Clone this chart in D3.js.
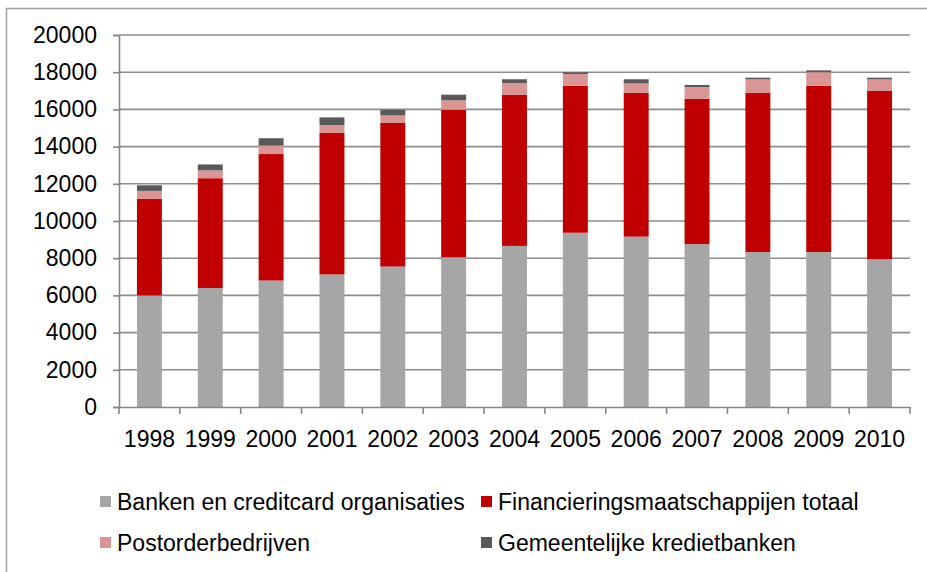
<!DOCTYPE html>
<html>
<head>
<meta charset="utf-8">
<script src="https://cdn.jsdelivr.net/npm/d3@7"></script>
<style>
body { margin: 0; background: #fff; }
text { font-family: "Liberation Sans", Arial, sans-serif; fill: #000; }
</style>
</head>
<body>
<div id="chart"></div>
<script>
var years = ["1998","1999","2000","2001","2002","2003","2004","2005","2006","2007","2008","2009","2010"];
var banken = [6000, 6400, 6800, 7130, 7550, 8050, 8660, 9370, 9160, 8760, 8330, 8330, 7940];
var financiering = [5200, 5900, 6800, 7600, 7720, 7935, 8130, 7906, 7720, 7815, 8550, 8946, 9050];
var postorder = [420, 420, 450, 430, 410, 505, 630, 627, 520, 630, 736, 724, 626];
var gemeentelijk = [300, 320, 400, 410, 290, 300, 200, 90, 220, 110, 90, 100, 90];
var yTicks = [0, 2000, 4000, 6000, 8000, 10000, 12000, 14000, 16000, 18000, 20000];

var seriesNames = ["Banken en creditcard organisaties", "Financieringsmaatschappijen totaal",
                   "Postorderbedrijven", "Gemeentelijke kredietbanken"];
var seriesColors = ["#a6a6a6", "#c00000", "#da9694", "#595959"];

var param = {
	width : 927,
	height : 572,
	left : 119,
	right : 910,
	top : 35,
	bottom : 407,
	fontSize : "23px"
}

function draw() {
	var svg = d3.select("#chart")
	            .append("svg")
	            .attr("width", param.width)
	            .attr("height", param.height);

	svg.append("rect")
	   .attr("x", 6.5).attr("y", 8.5)
	   .attr("width", 930).attr("height", 580)
	   .style("fill", "none")
	   .style("stroke", "#a0a0a0")
	   .style("stroke-width", 1.5);

	var x = d3.scaleBand()
	          .domain(years)
	          .range([param.left, param.right])
	          .paddingInner(0.59)
	          .paddingOuter(0.295);

	var y = d3.scaleLinear()
	          .domain([0, 20000])
	          .range([param.bottom, param.top]);

	// gridlines
	svg.selectAll(".grid")
	   .data(yTicks.filter(function(d) {return d > 0}))
	   .enter()
	   .append("line")
	   .attr("x1", param.left).attr("x2", param.right)
	   .attr("y1", function(d) {return y(d)})
	   .attr("y2", function(d) {return y(d)})
	   .style("stroke", "#8c8c8c")
	   .style("stroke-width", 1.6);

	// stacked bars
	var table = years.map(function(yr, i) {
		return {year : yr, s0 : banken[i], s1 : financiering[i], s2 : postorder[i], s3 : gemeentelijk[i]};
	});
	var stack = d3.stack().keys(["s0", "s1", "s2", "s3"])(table);

	svg.selectAll(".layer")
	   .data(stack)
	   .enter()
	   .append("g")
	   .style("fill", function(d, i) {return seriesColors[i]})
	   .selectAll("rect")
	   .data(function(d) {return d})
	   .enter()
	   .append("rect")
	   .attr("x", function(d) {return x(d.data.year)})
	   .attr("width", x.bandwidth())
	   .attr("y", function(d) {return y(d[1])})
	   .attr("height", function(d) {return y(d[0]) - y(d[1])});

	// y axis
	var yAxis = d3.axisLeft(y)
	              .tickValues(yTicks)
	              .tickSize(6)
	              .tickPadding(16)
	              .tickFormat(d3.format("d"));
	var gy = svg.append("g")
	            .attr("transform", "translate(" + param.left + ",0)")
	            .call(yAxis);
	gy.select(".domain").style("stroke", "#868686").style("stroke-width", 1.6);
	gy.selectAll(".tick line").style("stroke", "#868686").style("stroke-width", 1.6);
	gy.selectAll(".tick text")
	  .style("font-size", param.fontSize)
	  .style("font-family", "Liberation Sans, Arial, sans-serif");

	// x axis
	var xAxis = d3.axisBottom(x).tickSize(0).tickPadding(24);
	var gx = svg.append("g")
	            .attr("transform", "translate(0," + param.bottom + ")")
	            .call(xAxis);
	gx.select(".domain").style("stroke", "#868686").style("stroke-width", 1.6);
	gx.selectAll(".tick text")
	  .style("font-size", param.fontSize)
	  .style("font-family", "Liberation Sans, Arial, sans-serif");

	var gap = (x.step() - x.bandwidth()) / 2;
	var bounds = years.map(function(yr) {return x(yr) - gap}).concat([param.right]);
	svg.selectAll(".xtick")
	   .data(bounds)
	   .enter()
	   .append("line")
	   .attr("x1", function(d) {return d}).attr("x2", function(d) {return d})
	   .attr("y1", param.bottom).attr("y2", param.bottom + 7)
	   .style("stroke", "#868686")
	   .style("stroke-width", 1.6);

	// legend
	var legendPos = [
		{x : 100, y : 496},
		{x : 481, y : 496},
		{x : 100, y : 537},
		{x : 481, y : 537}
	];
	var legend = svg.selectAll(".legend")
	                .data(seriesNames)
	                .enter()
	                .append("g")
	                .attr("transform", function(d, i) {return "translate(" + legendPos[i].x + "," + legendPos[i].y + ")"});
	legend.append("rect")
	      .attr("width", 11).attr("height", 11)
	      .style("fill", function(d, i) {return seriesColors[i]});
	legend.append("text")
	      .attr("x", 17)
	      .attr("y", 5.5)
	      .attr("dy", "0.35em")
	      .text(function(d) {return d})
	      .style("font-size", param.fontSize);
}

draw();
</script>
</body>
</html>
